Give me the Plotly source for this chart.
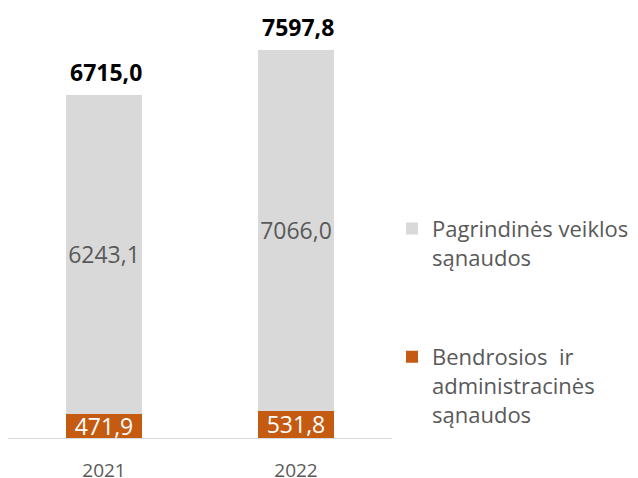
import plotly.graph_objects as go

years = ["2021", "2022"]
admin = [471.9, 531.8]
main = [6243.1, 7066.0]
totals = [6715.0, 7597.8]
admin_labels = ["471,9", "531,8"]
main_labels = ["6243,1", "7066,0"]
total_labels = ["6715,0", "7597,8"]
name_main = "Pagrindinės veiklos<br>sąnaudos"
name_admin = "Bendrosios  ir<br>administracinės<br>sąnaudos"

FONT = "Open Sans"
GREY_TXT = "#595959"

fig = go.Figure()
fig.add_trace(go.Bar(
    x=years, y=admin, name=name_admin, legendgroup="a", legendrank=2,
    marker=dict(color="#C55A11", line=dict(width=0)),
    text=admin_labels, textposition="inside", insidetextanchor="middle",
    textangle=0, constraintext="none",
    textfont=dict(family=FONT, size=23, color="white"),
    hoverinfo="skip",
))
fig.add_trace(go.Bar(
    x=years, y=main, name=name_main, legendgroup="b", legendrank=1,
    marker=dict(color="#D9D9D9", line=dict(width=0)),
    text=main_labels, textposition="inside", insidetextanchor="middle",
    textangle=0, constraintext="none",
    textfont=dict(family=FONT, size=23, color=GREY_TXT),
    hoverinfo="skip",
))

for i, (tot, lab) in enumerate(zip(totals, total_labels)):
    fig.add_annotation(x=i, y=tot, text="<b>" + lab + "</b>", showarrow=False,
                       xanchor="center", yanchor="bottom", yshift=5, xshift=2,
                       font=dict(family=FONT, size=23, color="black"))

fig.update_layout(
    width=638, height=478,
    barmode="stack", bargap=0.6,
    paper_bgcolor="white", plot_bgcolor="white",
    margin=dict(l=0, r=254, t=2, b=48),
    font=dict(family=FONT, color=GREY_TXT),
    showlegend=True,
    legend=dict(
        x=1.0, xanchor="left", y=0.538, yanchor="top",
        traceorder="grouped", tracegroupgap=68,
        valign="top",
        font=dict(family=FONT, size=22, color=GREY_TXT),
        bgcolor="rgba(0,0,0,0)",
    ),
)
fig.update_xaxes(
    type="category", range=[-0.5, 1.5],
    showline=True, linecolor="#D9D9D9", linewidth=1,
    ticks="outside", ticklen=15, tickcolor="rgba(0,0,0,0)",
    showgrid=False, zeroline=False,
    tickfont=dict(family=FONT, size=19, color=GREY_TXT),
)
fig.update_yaxes(
    range=[0, 8379], visible=False, showgrid=False, zeroline=False,
)

fig.write_html("out.html")
